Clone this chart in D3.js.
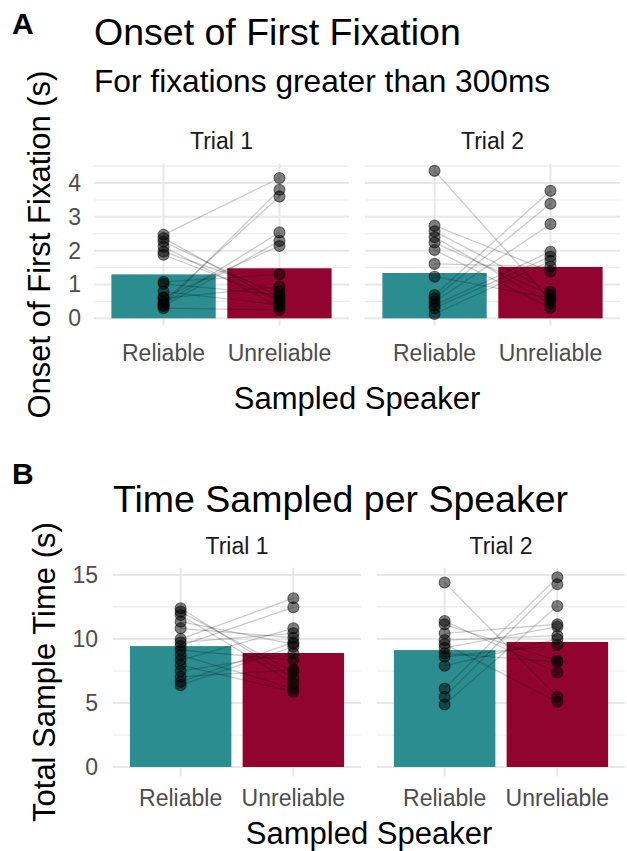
<!DOCTYPE html>
<html>
<head>
<meta charset="utf-8">
<script src="https://cdn.jsdelivr.net/npm/d3@7"></script>
<style>
  body { margin: 0; background: #fff; }
  svg { font-family: "Liberation Sans", Arial, sans-serif; }
</style>
</head>
<body>
<div id="chart"></div>
<script>
// categories
const speakers = ["Reliable", "Unreliable"];
const trials = ["Trial 1", "Trial 2"];

// Panel A: onset of first fixation (s), one entry per participant (paired)
const onsetT1Reliable   = [2.47, 2.37, 2.27, 2.12, 1.97, 1.88, 1.08, 1.02, 0.79, 0.62, 0.59, 0.49, 0.42, 0.39, 0.36, 0.30];
const onsetT1Unreliable = [4.15, 0.49, 0.64, 0.34, 0.79, 0.55, 1.30, 0.70, 0.40, 2.14, 0.94, 3.60, 2.54, 3.80, 2.29, 0.25];
const onsetT2Reliable   = [4.36, 2.74, 2.57, 2.40, 2.24, 2.02, 1.61, 1.23, 0.69, 0.59, 0.49, 0.39, 0.30, 0.13];
const onsetT2Unreliable = [0.54, 1.38, 0.79, 0.44, 0.69, 0.31, 1.53, 0.60, 3.77, 3.39, 2.79, 1.97, 1.83, 1.70];
const onsetMeansT1 = [1.30, 1.48];
const onsetMeansT2 = [1.34, 1.52];
const onsetTicks = [0, 1, 2, 3, 4];

// Panel B: total sample time (s)
const timeT1Reliable   = [12.39, 12.13, 11.87, 11.35, 10.83, 9.99, 9.73, 9.47, 9.13, 8.74, 8.35, 7.96, 7.49, 7.04, 6.65, 6.39];
const timeT1Unreliable = [6.92, 7.43, 6.53, 9.60, 10.09, 13.18, 10.44, 12.47, 8.35, 6.13, 10.83, 5.87, 8.87, 7.60, 9.73, 9.39];
const timeT2Reliable   = [14.40, 11.40, 11.14, 10.44, 9.91, 9.60, 9.30, 8.87, 8.61, 7.90, 6.13, 5.48, 4.88];
const timeT2Unreliable = [5.48, 7.38, 8.30, 11.14, 10.25, 5.09, 10.96, 8.20, 9.52, 10.00, 14.82, 14.27, 12.57];
const timeMeansT1 = [9.44, 8.90];
const timeMeansT2 = [9.13, 9.76];
const timeTicks = [0, 5, 10, 15];

const fillColors = ["#2c8d90", "#910331"];

const svg = d3.select("#chart").append("svg")
    .attr("width", 627)
    .attr("height", 851);

function drawPanel(cfg) {
    // y scale with ggplot-style 5% expansion
    const maxV = d3.max(cfg.facets.flatMap(f => f.rel.concat(f.unrel)));
    const pad = maxV * 0.05;
    const y = d3.scaleLinear().domain([-pad, maxV + pad]).range([cfg.bottom, cfg.top]);

    const minorTicks = cfg.ticks.slice(0, -1).map((t, i) => (t + cfg.ticks[i + 1]) / 2)
        .concat([cfg.ticks[cfg.ticks.length - 1] + (cfg.ticks[1] - cfg.ticks[0]) / 2])
        .filter(t => t <= maxV + pad);

    cfg.facets.forEach((f, fi) => {
        const x = d3.scaleBand().domain(speakers)
            .range(cfg.panelsX[fi])
            .paddingInner(0.1).paddingOuter(0.15);
        const g = svg.append("g");
        const [x0, x1] = cfg.panelsX[fi];

        // grid
        g.selectAll("line.minor").data(minorTicks).enter().append("line")
            .attr("x1", x0).attr("x2", x1)
            .attr("y1", d => y(d)).attr("y2", d => y(d))
            .attr("stroke", "#ebebeb").attr("stroke-width", 1.1);
        g.selectAll("line.major").data(cfg.ticks).enter().append("line")
            .attr("x1", x0).attr("x2", x1)
            .attr("y1", d => y(d)).attr("y2", d => y(d))
            .attr("stroke", "#e8e8e8").attr("stroke-width", 2);
        g.selectAll("line.vgrid").data(speakers).enter().append("line")
            .attr("x1", d => x(d) + x.bandwidth() / 2).attr("x2", d => x(d) + x.bandwidth() / 2)
            .attr("y1", cfg.top).attr("y2", cfg.bottom)
            .attr("stroke", "#e8e8e8").attr("stroke-width", 2);

        // bars (means)
        g.selectAll("rect").data(f.means).enter().append("rect")
            .attr("x", (d, i) => x(speakers[i]))
            .attr("width", x.bandwidth())
            .attr("y", d => y(d))
            .attr("height", d => y(0) - y(d))
            .attr("fill", (d, i) => fillColors[i]);

        // paired lines
        const cx0 = x(speakers[0]) + x.bandwidth() / 2;
        const cx1 = x(speakers[1]) + x.bandwidth() / 2;
        g.selectAll("line.pair").data(f.rel).enter().append("line")
            .attr("x1", cx0).attr("x2", cx1)
            .attr("y1", d => y(d)).attr("y2", (d, i) => y(f.unrel[i]))
            .attr("stroke", "#000").attr("stroke-opacity", 0.2).attr("stroke-width", 1.3);

        // points
        const pts = f.rel.map(v => [cx0, v]).concat(f.unrel.map(v => [cx1, v]));
        g.selectAll("circle").data(pts).enter().append("circle")
            .attr("cx", d => d[0]).attr("cy", d => y(d[1]))
            .attr("r", 5.5)
            .attr("fill", "#000").attr("fill-opacity", 0.5)
            .attr("stroke", "#000").attr("stroke-opacity", 0.5).attr("stroke-width", 1.1);

        // strip label
        svg.append("text")
            .attr("x", (x0 + x1) / 2).attr("y", cfg.stripY)
            .attr("text-anchor", "middle")
            .style("font-size", "23px").style("fill", "#1a1a1a")
            .text(trials[fi]);

        // x tick labels
        const xAxis = svg.append("g")
            .attr("transform", `translate(0,${cfg.bottom})`)
            .call(d3.axisBottom(x).tickSize(0).tickPadding(cfg.xTickPad));
        xAxis.select(".domain").remove();
        xAxis.selectAll("text")
            .style("font-size", "23px").style("fill", "#4d4d4d")
            .attr("font-family", null);
    });

    // y tick labels
    const yAxis = svg.append("g")
        .attr("transform", `translate(${cfg.yTickX},0)`)
        .call(d3.axisLeft(y).tickValues(cfg.ticks).tickFormat(d3.format("d")).tickSize(0).tickPadding(0));
    yAxis.select(".domain").remove();
    yAxis.selectAll("text")
        .style("font-size", "23px").style("fill", "#4d4d4d")
        .attr("font-family", null);

    // y axis title
    svg.append("text")
        .attr("transform", `translate(${cfg.yTitleX},${(cfg.top + cfg.bottom) / 2}) rotate(-90)`)
        .attr("text-anchor", "middle")
        .style("font-size", "31px")
        .text(cfg.yTitle);

    // x axis title
    const xl = cfg.panelsX[0][0], xr = cfg.panelsX[1][1];
    svg.append("text")
        .attr("x", (xl + xr) / 2).attr("y", cfg.xTitleY)
        .attr("text-anchor", "middle")
        .style("font-size", "31px")
        .text("Sampled Speaker");

    // title, subtitle, tag
    svg.append("text")
        .attr("x", xl).attr("y", cfg.titleY)
        .style("font-size", "37.5px")
        .text(cfg.title);
    if (cfg.subtitle) {
        svg.append("text")
            .attr("x", xl).attr("y", cfg.subtitleY)
            .style("font-size", "31.7px")
            .text(cfg.subtitle);
    }
    svg.append("text")
        .attr("x", 12).attr("y", cfg.tagY)
        .style("font-size", "30px").style("font-weight", "bold")
        .text(cfg.tag);
}

drawPanel({
    tag: "A", tagY: 34,
    title: "Onset of First Fixation", titleY: 45,
    subtitle: "For fixations greater than 300ms", subtitleY: 92,
    stripY: 149,
    top: 163.5, bottom: 325.7,
    panelsX: [[94, 349], [365, 620]],
    ticks: onsetTicks,
    yTickX: 81, yTitleX: 50,
    yTitle: "Onset of First Fixation (s)",
    xTickPad: 19, xTitleY: 409,
    facets: [
        { rel: onsetT1Reliable, unrel: onsetT1Unreliable, means: onsetMeansT1 },
        { rel: onsetT2Reliable, unrel: onsetT2Unreliable, means: onsetMeansT2 }
    ]
});

drawPanel({
    tag: "B", tagY: 484,
    title: "Time Sampled per Speaker", titleY: 512,
    subtitle: null,
    stripY: 554,
    top: 567.7, bottom: 776.5,
    panelsX: [[113, 361], [377, 625]],
    ticks: timeTicks,
    yTickX: 98, yTitleX: 55,
    yTitle: "Total Sample Time (s)",
    xTickPad: 13, xTitleY: 844,
    facets: [
        { rel: timeT1Reliable, unrel: timeT1Unreliable, means: timeMeansT1 },
        { rel: timeT2Reliable, unrel: timeT2Unreliable, means: timeMeansT2 }
    ]
});
</script>
</body>
</html>
